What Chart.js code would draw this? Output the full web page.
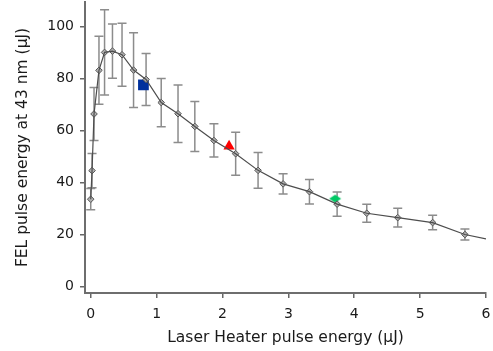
<!DOCTYPE html>
<html>
<head>
<meta charset="utf-8">
<script src="https://cdn.jsdelivr.net/npm/chart.js@4"></script>
<style>
  html, body { margin: 0; padding: 0; background: #fff; }
</style>
</head>
<body>
<canvas id="felChart" width="493" height="351"></canvas>
<script>
// Laser heater pulse energy (uJ) for each measurement
const heaterEnergy = [0.0, 0.02, 0.05, 0.125, 0.21, 0.33, 0.475, 0.65, 0.84, 1.07, 1.325,
  1.58, 1.87, 2.2, 2.54, 2.92, 3.32, 3.74, 4.19, 4.66, 5.19, 5.68];
// FEL pulse energy at 43 nm (uJ)
const felEnergy = [33.6, 44.6, 66.4, 83.2, 90.1, 90.6, 89.2, 83.3, 79.7, 70.8, 66.5,
  61.6, 56.2, 51.1, 44.7, 39.5, 36.5, 31.7, 28.2, 26.5, 24.6, 20.0];
// half-width of the error bars
const felError = [4.1, 6.6, 10.2, 13.1, 16.4, 10.4, 12.1, 14.4, 10.0, 9.3, 11.1,
  9.6, 6.4, 8.3, 6.9, 3.9, 4.7, 4.7, 3.5, 3.6, 2.8, 2.1];
// the trace keeps going to the end of the axis
const tailX = [6.0];
const tailY = [18.3];

// highlighted working points
const squareX = [0.80], squareY = [77.6];
const triangleX = [2.10], triangleY = [54.0];
const diamondX = [3.71], diamondY = [33.8];

const xTicks = [0, 1, 2, 3, 4, 5, 6];
const yTicks = [0, 20, 40, 60, 80, 100];

const FONT = "'DejaVu Sans', 'Lucida Grande', sans-serif";

const toPoints = (xs, ys) => xs.map((v, i) => ({ x: v, y: ys[i] }));

// flat green diamond marker
const flatDiamond = document.createElement("canvas");
flatDiamond.width = 14;
flatDiamond.height = 10;
(function () {
  const c = flatDiamond.getContext("2d");
  c.fillStyle = "#00c864";
  c.beginPath();
  c.moveTo(1, 5);
  c.lineTo(7, 1);
  c.lineTo(13, 5);
  c.lineTo(7, 9);
  c.closePath();
  c.fill();
})();

const errorBars = {
  id: "errorBars",
  beforeDatasetsDraw(chart) {
    const { ctx, scales: { x, y } } = chart;
    ctx.save();
    ctx.strokeStyle = "#8c8c8c";
    ctx.lineWidth = 1.5;
    heaterEnergy.forEach((hx, i) => {
      const px = x.getPixelForValue(hx);
      const top = y.getPixelForValue(felEnergy[i] + felError[i]);
      const bot = y.getPixelForValue(felEnergy[i] - felError[i]);
      ctx.beginPath();
      ctx.moveTo(px, top);
      ctx.lineTo(px, bot);
      ctx.moveTo(px - 4.5, top);
      ctx.lineTo(px + 4.5, top);
      ctx.moveTo(px - 4.5, bot);
      ctx.lineTo(px + 4.5, bot);
      ctx.stroke();
    });
    ctx.restore();
  }
};

const ctx = document.getElementById("felChart").getContext("2d");

new Chart(ctx, {
  type: "scatter",
  data: {
    datasets: [
      {
        data: toPoints(heaterEnergy.concat(tailX), felEnergy.concat(tailY)),
        showLine: true,
        borderColor: "#4d4d4d",
        borderWidth: 1.2,
        pointRadius: 0,
        fill: false
      },
      {
        data: toPoints(heaterEnergy, felEnergy),
        showLine: false,
        pointStyle: "rectRot",
        pointRadius: 3.3,
        backgroundColor: "#b0b0b0",
        borderColor: "#555",
        borderWidth: 1
      },
      {
        data: toPoints(squareX, squareY),
        pointStyle: "rect",
        pointRadius: 7.6,
        backgroundColor: "#00309c",
        borderWidth: 0
      },
      {
        data: toPoints(triangleX, triangleY),
        pointStyle: "triangle",
        pointRadius: 6.5,
        backgroundColor: "#ff0000",
        borderWidth: 0
      },
      {
        data: toPoints(diamondX, diamondY),
        pointStyle: flatDiamond,
        pointRadius: 6
      }
    ]
  },
  options: {
    responsive: false,
    animation: false,
    devicePixelRatio: 1,
    layout: { autoPadding: false, padding: { top: 2, right: 7, bottom: 0, left: 0 } },
    plugins: {
      legend: { display: false },
      tooltip: { enabled: false }
    },
    scales: {
      x: {
        type: "linear",
        min: -0.087,
        max: 6,
        afterBuildTicks: (scale) => { scale.ticks = xTicks.map(v => ({ value: v })); },
        afterFit: (scale) => {
          scale.height = 58;
          scale.paddingLeft = 0;
          scale.paddingRight = 0;
        },
        grid: { drawOnChartArea: false, drawTicks: true, tickLength: 5, color: "#666", lineWidth: 1.5 },
        border: { color: "#6e6e6e", width: 2 },
        ticks: { font: { family: FONT, size: 14 }, color: "#1a1a1a", padding: 8, maxRotation: 0 },
        title: {
          display: true,
          text: "Laser Heater pulse energy (μJ)",
          font: { family: FONT, size: 15.5 },
          color: "#1a1a1a",
          padding: { top: 0, bottom: 4 }
        }
      },
      y: {
        type: "linear",
        min: -2.5,
        max: 109.5,
        afterBuildTicks: (scale) => { scale.ticks = yTicks.map(v => ({ value: v })); },
        afterFit: (scale) => {
          scale.width = 85;
          scale.paddingTop = 0;
          scale.paddingBottom = 0;
        },
        grid: { drawOnChartArea: false, drawTicks: true, tickLength: 5, color: "#666", lineWidth: 1.5 },
        border: { color: "#6e6e6e", width: 2 },
        ticks: { font: { family: FONT, size: 14 }, color: "#1a1a1a", padding: 6 },
        title: {
          display: true,
          text: "FEL pulse energy at 43 nm (μJ)",
          font: { family: FONT, size: 15.5 },
          color: "#1a1a1a",
          padding: { top: 14, bottom: 0 }
        }
      }
    }
  },
  plugins: [errorBars]
});
</script>
</body>
</html>
